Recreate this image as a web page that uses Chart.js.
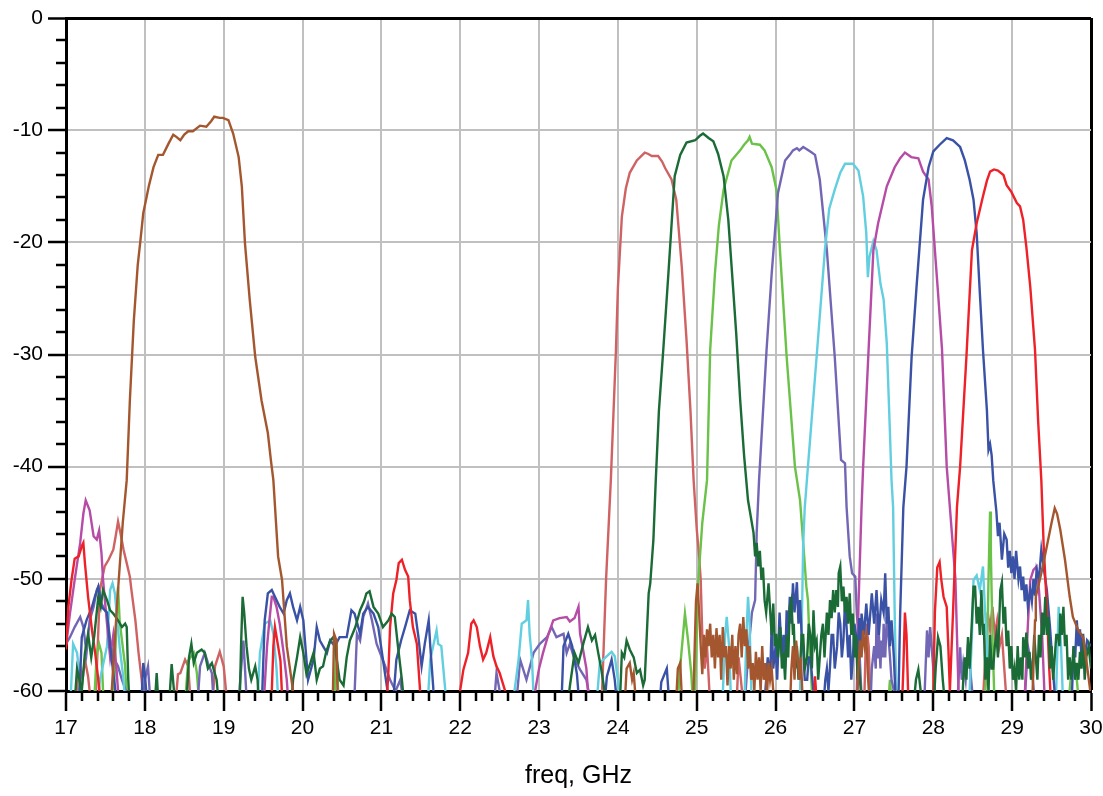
<!DOCTYPE html>
<html>
<head>
<meta charset="utf-8">
<script src="https://cdn.jsdelivr.net/npm/chart.js@4"></script>
<style>
  body { margin: 0; background: #fff; }
  canvas { display: block; }
</style>
</head>
<body>
<canvas id="filterChart" width="1103" height="796"></canvas>
<script>
// S21 traces of the filter bank, [freq GHz, dB]; values below -60 fall off the plot
const siennaTrace = [[17.0,-62],[17.5,-62],[17.58,-60],[17.65,-52],[17.72,-45],[17.77,-41.2],[17.81,-34.1],[17.86,-27],[17.91,-22],[17.94,-20.1],[17.98,-17.4],[18.05,-15],[18.11,-13.3],[18.17,-12.2],[18.23,-12.2],[18.30,-11.2],[18.36,-10.4],[18.40,-10.6],[18.45,-10.9],[18.50,-10.4],[18.55,-10.1],[18.61,-10.1],[18.70,-9.6],[18.78,-9.7],[18.84,-9.2],[18.88,-8.8],[18.95,-8.9],[18.99,-8.9],[19.06,-9.1],[19.12,-10.3],[19.19,-12.4],[19.23,-15.0],[19.27,-20.1],[19.33,-25.1],[19.40,-30.2],[19.48,-34.1],[19.56,-37.0],[19.60,-39.5],[19.63,-41.2],[19.69,-48.0],[19.74,-50.1],[19.80,-56.0],[19.88,-60],[19.95,-62],[20.38,-62],[20.40,-54.9],[20.43,-55.5],[20.45,-62],[24.08,-62],[24.11,-58],[24.15,-57.5],[24.18,-59],[24.2,-58.4],[24.24,-62],[24.73,-62],[24.76,-58],[24.79,-57.5],[24.82,-62],[24.95,-62],[24.97,-57],[24.99,-52],[25.01,-50.4],[25.03,-53],[25.05,-56],[25.07,-58.5],[25.09,-55],[25.11,-57],[25.13,-54.5],[25.15,-56],[25.17,-54],[25.19,-57],[25.21,-55],[25.23,-58],[25.25,-54.4],[25.27,-57],[25.29,-55],[25.31,-59],[25.33,-54.3],[25.35,-57],[25.37,-56],[25.39,-59.5],[25.41,-56],[25.43,-58],[25.45,-55],[25.47,-59],[25.49,-56],[25.51,-58.5],[25.53,-55],[25.55,-54],[25.57,-57],[25.59,-53.4],[25.61,-56],[25.63,-54.5],[25.65,-58],[25.67,-56],[25.69,-59],[25.71,-57.5],[25.73,-60],[25.75,-56.5],[25.77,-59],[25.79,-57],[25.81,-60],[25.83,-56],[25.85,-59],[25.87,-57.5],[25.89,-60.5],[25.91,-57.5],[25.93,-59],[25.95,-58],[25.97,-60],[26.0,-62],[26.18,-62],[26.2,-58],[26.22,-56],[26.24,-59],[26.26,-55.5],[26.28,-57],[26.3,-59],[26.32,-57],[26.35,-62],[27.03,-62],[27.05,-58],[27.07,-55.5],[27.09,-57],[27.11,-54.6],[27.13,-56],[27.15,-55.2],[27.17,-58.5],[27.2,-62],[29.25,-62],[29.29,-53.7],[29.30,-51.6],[29.37,-49.5],[29.44,-47.1],[29.50,-45],[29.54,-43.7],[29.57,-44.2],[29.61,-45.6],[29.67,-48.3],[29.73,-51.6],[29.77,-53.4],[29.84,-54.6],[29.90,-55.2],[29.94,-57.2],[30.0,-60.5]];

const salmonTrace = [[17.0,-62],[17.12,-62],[17.15,-59],[17.18,-57.8],[17.21,-59],[17.24,-57.2],[17.28,-58.7],[17.33,-62],[17.38,-60],[17.43,-51],[17.49,-48.9],[17.54,-48.3],[17.6,-47.4],[17.63,-46.2],[17.66,-44.9],[17.69,-45.9],[17.73,-47.4],[17.77,-48.6],[17.81,-49.8],[17.83,-51],[17.88,-53.7],[17.92,-56.6],[17.96,-59],[17.99,-62],[18.38,-62],[18.42,-58.5],[18.45,-58.4],[18.51,-57.2],[18.55,-57.8],[18.59,-62],[18.85,-62],[18.89,-57.8],[18.95,-56.5],[19.0,-57.8],[19.03,-60],[19.05,-62],[23.75,-62],[23.80,-59.9],[23.85,-50],[23.91,-41.2],[23.975,-29.6],[24.0,-24],[24.05,-17.7],[24.1,-15.2],[24.15,-13.8],[24.24,-12.7],[24.34,-12.0],[24.38,-12.1],[24.43,-12.3],[24.51,-12.3],[24.56,-12.8],[24.60,-13.4],[24.68,-14.4],[24.74,-16.2],[24.81,-22.2],[24.87,-28.7],[24.92,-35],[24.96,-41.2],[25.0,-45.6],[25.03,-48],[25.05,-50.1],[25.07,-55],[25.1,-58],[25.13,-56],[25.16,-60],[25.2,-62],[25.5,-62],[25.53,-57],[25.56,-59],[25.6,-62],[27.12,-62],[27.15,-54],[27.18,-56],[27.21,-62],[28.62,-62],[28.66,-57],[28.69,-53],[28.72,-54.5],[28.75,-52.5],[28.78,-55],[28.81,-53.7],[28.84,-56],[28.87,-55],[28.9,-58],[28.94,-62],[30.0,-62]];

const darkGreenTrace = [[17.0,-62],[17.1,-62],[17.14,-58],[17.2,-60],[17.24,-56.6],[17.28,-54.9],[17.32,-57],[17.36,-55],[17.41,-51.6],[17.44,-52.5],[17.47,-51],[17.52,-51.9],[17.56,-52.8],[17.6,-53.1],[17.66,-53.7],[17.71,-54.3],[17.75,-54],[17.77,-54.3],[17.79,-59],[17.81,-62],[18.12,-62],[18.15,-58.4],[18.18,-62],[18.30,-62],[18.34,-57.6],[18.37,-60],[18.52,-62],[18.56,-57],[18.59,-55.8],[18.62,-57.5],[18.66,-56.6],[18.72,-56.3],[18.76,-56.6],[18.8,-58],[18.85,-57.5],[18.91,-59],[18.95,-62],[19.2,-62],[19.22,-56],[19.24,-51.6],[19.26,-53],[19.29,-56],[19.32,-58],[19.35,-59],[19.4,-57.8],[19.43,-59],[19.45,-62],[19.85,-62],[19.88,-59],[19.93,-57],[19.97,-55.2],[20.01,-56.6],[20.05,-58.5],[20.1,-57.5],[20.14,-56.6],[20.18,-59],[20.22,-58],[20.26,-57.8],[20.3,-56.5],[20.35,-55.5],[20.39,-55.2],[20.43,-57],[20.47,-59],[20.52,-59.5],[20.56,-57],[20.6,-55.5],[20.67,-54.3],[20.73,-52.8],[20.78,-52],[20.81,-51.3],[20.85,-51.1],[20.9,-52.5],[20.96,-53.1],[21.02,-54.3],[21.09,-53.7],[21.13,-53.1],[21.17,-53.4],[21.21,-56],[21.26,-59],[21.3,-62],[23.35,-62],[23.39,-59.6],[23.45,-56.6],[23.5,-57.5],[23.56,-55.8],[23.62,-54.3],[23.67,-55.5],[23.71,-55],[23.75,-56.6],[23.79,-58.1],[23.83,-60],[23.9,-62],[24.02,-62],[24.05,-56.6],[24.08,-57],[24.11,-55.5],[24.15,-56.3],[24.2,-57],[24.24,-58.4],[24.28,-58.1],[24.32,-59.5],[24.34,-59],[24.39,-51.3],[24.41,-50.4],[24.45,-46.5],[24.48,-41.2],[24.52,-35],[24.575,-29.6],[24.64,-22.8],[24.72,-14.1],[24.79,-12.2],[24.87,-11.1],[24.98,-10.9],[25.04,-10.5],[25.08,-10.3],[25.15,-10.7],[25.21,-11.0],[25.27,-12.1],[25.34,-14.1],[25.40,-18.0],[25.46,-24.0],[25.5,-28.1],[25.55,-34],[25.6,-39],[25.65,-43],[25.72,-45.9],[25.74,-48],[25.76,-46.8],[25.78,-48.9],[25.80,-47.5],[25.82,-50.1],[25.84,-49],[25.86,-51.9],[25.88,-53],[25.91,-50.4],[25.93,-52.8],[25.95,-55],[25.97,-52.2],[25.99,-56],[26.01,-54.9],[26.03,-57],[26.06,-54.3],[26.08,-58],[26.1,-56.6],[26.12,-59],[26.14,-55],[26.16,-57],[26.18,-52.5],[26.2,-51.9],[26.22,-55],[26.23,-54],[26.25,-58],[26.27,-56],[26.29,-59],[26.31,-58],[26.33,-55],[26.35,-55],[26.37,-58],[26.4,-57],[26.42,-54],[26.44,-55],[26.46,-58],[26.48,-52.8],[26.5,-56],[26.52,-55.5],[26.54,-59],[26.56,-57],[26.58,-55],[26.6,-54],[26.62,-57],[26.65,-53],[26.67,-55],[26.69,-51.9],[26.71,-53.5],[26.73,-51],[26.75,-53],[26.77,-51],[26.79,-52.5],[26.8,-49.5],[26.82,-48.9],[26.84,-52],[26.86,-50.7],[26.88,-53],[26.9,-51.6],[26.92,-54],[26.94,-51.3],[26.96,-55],[26.98,-53.1],[27.0,-57],[27.02,-55],[27.04,-59],[27.06,-58],[27.1,-62],[27.74,-62],[27.78,-59],[27.81,-58.1],[27.84,-60],[27.88,-62],[28.0,-62],[28.03,-58],[28.06,-55.2],[28.09,-56],[28.12,-59],[28.16,-62],[28.36,-62],[28.38,-59],[28.4,-57],[28.42,-59],[28.44,-55.2],[28.46,-58],[28.49,-53.7],[28.51,-50.7],[28.53,-50.7],[28.55,-54],[28.57,-52.5],[28.59,-55],[28.61,-51],[28.63,-55],[28.64,-54],[28.66,-59],[28.68,-57],[28.7,-60],[28.72,-55],[28.74,-58],[28.76,-58],[28.78,-56],[28.8,-55],[28.82,-57],[28.85,-51],[28.87,-50.3],[28.89,-54],[28.91,-52.5],[28.93,-56],[28.95,-54.6],[28.97,-58],[28.99,-56],[29.01,-59],[29.03,-58],[29.05,-60],[29.07,-56],[29.09,-59],[29.11,-57],[29.13,-59],[29.14,-55.2],[29.16,-57],[29.18,-54.8],[29.2,-58],[29.22,-56.5],[29.24,-59],[29.26,-58],[29.28,-55],[29.3,-57],[29.32,-59],[29.34,-55],[29.36,-57],[29.38,-53],[29.4,-55],[29.42,-51.6],[29.44,-55],[29.46,-53.4],[29.48,-58],[29.5,-56],[29.52,-59],[29.54,-57],[29.56,-55],[29.58,-55],[29.6,-56],[29.61,-53.1],[29.63,-55],[29.65,-52.5],[29.67,-56],[29.69,-55],[29.71,-59],[29.73,-57],[29.75,-59],[29.78,-56],[29.8,-59],[29.82,-57.5],[29.84,-59],[29.86,-56.5],[29.88,-58],[29.90,-55.5],[29.92,-59],[29.94,-57],[29.97,-56],[30.0,-58]];

const lightGreenTrace = [[17.0,-62],[17.14,-62],[17.18,-59],[17.22,-62],[17.35,-62],[17.39,-56.6],[17.42,-55.8],[17.45,-56.6],[17.47,-60],[17.5,-62],[17.6,-62],[17.64,-53.7],[17.66,-50.7],[17.68,-53.7],[17.71,-55.5],[17.75,-57.8],[17.78,-62],[18.5,-62],[18.55,-57.3],[18.62,-56.6],[18.66,-58.4],[18.7,-62],[20.4,-62],[20.43,-55.5],[20.46,-62],[24.75,-62],[24.79,-57.8],[24.85,-53.1],[24.89,-55.5],[24.93,-58.4],[24.96,-62],[24.98,-59.6],[25.02,-50.1],[25.07,-45],[25.13,-41.2],[25.17,-29.6],[25.23,-22.8],[25.28,-18.5],[25.34,-15.3],[25.44,-12.7],[25.55,-11.8],[25.60,-11.3],[25.65,-10.9],[25.67,-10.6],[25.70,-11.2],[25.80,-11.3],[25.86,-11.8],[25.95,-13.3],[26.01,-15.3],[26.055,-20.7],[26.14,-30.2],[26.245,-40.0],[26.31,-43],[26.35,-46.8],[26.39,-50.7],[26.41,-51.9],[26.43,-55.5],[26.46,-60],[26.5,-62],[27.42,-62],[27.45,-59],[27.48,-62],[28.64,-62],[28.68,-58],[28.7,-50],[28.72,-44.0],[28.73,-47.7],[28.75,-55],[28.78,-62],[29.7,-62],[29.75,-58.4],[29.78,-57.5],[29.82,-59],[29.86,-62],[30.0,-62]];

const purpleTrace = [[17.0,-55.8],[17.05,-55.2],[17.11,-54.3],[17.18,-53.4],[17.22,-54.3],[17.26,-56.6],[17.3,-53.7],[17.35,-52.5],[17.39,-51],[17.41,-50.7],[17.45,-52.2],[17.52,-53.1],[17.56,-55.5],[17.6,-57],[17.66,-57.8],[17.71,-59],[17.77,-60.2],[17.8,-62],[17.97,-62],[18.0,-59],[18.04,-57.8],[18.08,-62],[18.66,-62],[18.7,-57.8],[18.76,-56.6],[18.8,-57.5],[18.85,-58.4],[18.88,-62],[19.18,-62],[19.21,-59],[19.25,-55.5],[19.27,-58],[19.3,-62],[20.65,-62],[20.69,-54.9],[20.73,-55.5],[20.77,-53.4],[20.83,-52.2],[20.88,-53.7],[20.94,-55.8],[21.0,-56.9],[21.05,-57.8],[21.11,-59],[21.18,-60],[21.24,-59],[21.3,-62],[22.42,-62],[22.46,-58.4],[22.5,-60],[22.7,-62],[22.76,-57.2],[22.84,-59],[22.93,-56.6],[23.01,-55.8],[23.1,-55.2],[23.16,-54.3],[23.22,-55.2],[23.31,-54.9],[23.35,-56.6],[23.39,-55.8],[23.45,-57.2],[23.52,-58.1],[23.6,-59],[23.68,-62],[25.6,-62],[25.66,-56],[25.7,-53],[25.74,-51.9],[25.76,-45.9],[25.79,-41.2],[25.885,-29.6],[25.95,-22.8],[26.03,-15.6],[26.12,-12.7],[26.18,-12.2],[26.22,-11.8],[26.27,-11.6],[26.30,-11.8],[26.35,-11.5],[26.44,-11.9],[26.50,-12.2],[26.56,-14.4],[26.65,-20.7],[26.75,-30.2],[26.83,-39.4],[26.88,-39.7],[26.90,-43.6],[26.94,-48],[26.97,-49.5],[27.01,-49.8],[27.03,-53.1],[27.06,-56],[27.1,-62],[27.2,-62],[27.22,-58],[27.25,-56],[27.27,-58],[27.28,-53.1],[27.3,-57],[27.31,-55],[27.33,-58],[27.34,-55.5],[27.36,-57],[27.37,-54],[27.39,-57],[27.41,-53.4],[27.43,-55],[27.45,-56.9],[27.47,-59],[27.5,-60],[27.55,-62],[27.88,-62],[27.92,-54.6],[27.94,-57],[27.96,-54.3],[28.0,-58],[28.04,-62],[28.3,-62],[28.34,-56.1],[28.36,-59],[28.38,-57.5],[28.41,-59],[28.44,-55.8],[28.48,-59],[28.52,-62],[29.15,-62],[29.2,-56],[29.25,-58],[29.3,-62],[30.0,-62]];

const cyanTrace = [[17.0,-62],[17.05,-62],[17.09,-55.8],[17.14,-56.6],[17.18,-59],[17.22,-62],[17.4,-62],[17.43,-59],[17.52,-56],[17.56,-51],[17.59,-50.4],[17.62,-51.3],[17.65,-53.7],[17.68,-56],[17.73,-59],[17.76,-62],[19.42,-62],[19.46,-56.6],[19.52,-54],[19.59,-53.7],[19.63,-54.9],[19.67,-58],[19.7,-62],[21.58,-62],[21.62,-57.2],[21.7,-54.6],[21.72,-55.8],[21.76,-56],[21.81,-59.9],[21.84,-62],[22.65,-62],[22.69,-59.9],[22.74,-57.2],[22.78,-54],[22.84,-53.7],[22.86,-51.9],[22.88,-54.9],[22.91,-57.2],[22.94,-62],[23.72,-62],[23.77,-57.5],[23.86,-56.9],[23.92,-56.5],[23.96,-56.9],[24.0,-59],[24.03,-62],[25.32,-62],[25.36,-55],[25.38,-53.4],[25.41,-56],[25.44,-62],[25.6,-62],[25.63,-55],[25.65,-51.6],[25.67,-54],[25.7,-62],[26.28,-62],[26.31,-60],[26.33,-54.9],[26.35,-46.8],[26.37,-43.6],[26.41,-40.0],[26.52,-30.2],[26.625,-20.7],[26.68,-17],[26.75,-15.3],[26.82,-13.8],[26.88,-13.0],[26.98,-13.0],[27.05,-13.6],[27.11,-15.9],[27.15,-19.2],[27.17,-23.1],[27.19,-21.3],[27.24,-19.9],[27.28,-20.7],[27.33,-23.7],[27.37,-25.1],[27.41,-29.0],[27.45,-37.0],[27.47,-41.2],[27.49,-43.6],[27.51,-53],[27.53,-60],[27.56,-62],[28.45,-62],[28.49,-55],[28.51,-50.1],[28.55,-49.7],[28.59,-51],[28.63,-48.9],[28.65,-52],[28.68,-56],[28.71,-62],[29.55,-62],[29.59,-52.5],[29.62,-56],[29.65,-62],[30.0,-62]];

const magentaTrace = [[17.0,-56],[17.05,-53.1],[17.11,-50.1],[17.18,-46.8],[17.22,-44.2],[17.25,-43.0],[17.3,-43.9],[17.35,-46.2],[17.39,-46.5],[17.42,-45.7],[17.45,-47.7],[17.47,-50.1],[17.52,-54],[17.56,-57],[17.6,-55],[17.64,-58],[17.68,-62],[19.5,-62],[19.55,-56],[19.58,-53.7],[19.61,-51.6],[19.63,-51.6],[19.67,-52.5],[19.71,-54],[19.76,-56.6],[19.8,-59],[19.83,-62],[22.9,-62],[23.0,-58],[23.05,-56.6],[23.12,-54.9],[23.18,-53.7],[23.26,-53.5],[23.35,-53.4],[23.39,-53.8],[23.45,-53.5],[23.5,-52.5],[23.52,-54.9],[23.56,-56.4],[23.6,-58],[23.64,-62],[27.0,-62],[27.03,-60],[27.05,-52.5],[27.09,-43.6],[27.11,-40.0],[27.175,-30.2],[27.24,-20.7],[27.30,-18.3],[27.41,-15.0],[27.51,-13.3],[27.58,-12.5],[27.64,-12.0],[27.72,-12.4],[27.81,-12.5],[27.87,-13.7],[27.94,-14.4],[27.98,-16.8],[28.02,-20.7],[28.06,-24.5],[28.11,-29.5],[28.17,-40.0],[28.21,-43.6],[28.28,-50],[28.32,-60],[28.35,-62],[29.15,-62],[29.2,-54],[29.23,-50.1],[29.27,-49.2],[29.31,-48.9],[29.34,-51],[29.38,-55],[29.42,-62],[30.0,-62]];

const blueTrace = [[17.0,-62],[17.16,-62],[17.2,-55.2],[17.26,-53.7],[17.33,-52.5],[17.37,-51.5],[17.41,-50.7],[17.45,-52.5],[17.52,-53],[17.56,-56],[17.62,-59.6],[17.65,-62],[17.95,-62],[17.98,-57.5],[18.0,-58.5],[18.04,-62],[19.48,-62],[19.52,-53.7],[19.56,-51.3],[19.61,-51],[19.65,-51.6],[19.71,-52.5],[19.76,-53.1],[19.8,-51.9],[19.84,-51.3],[19.88,-52.5],[19.93,-53.7],[19.97,-52.5],[20.01,-53.7],[20.07,-59],[20.14,-57.2],[20.18,-54.3],[20.22,-55.5],[20.26,-56],[20.31,-56.6],[20.35,-55.5],[20.41,-56],[20.47,-55.2],[20.56,-55.2],[20.62,-52.8],[20.66,-53.1],[20.73,-54.9],[20.77,-53.1],[20.83,-52.5],[20.9,-53.1],[20.96,-54.3],[21.02,-57.2],[21.07,-59.6],[21.12,-62],[21.16,-60],[21.19,-57.2],[21.25,-55.5],[21.3,-54.3],[21.36,-52.8],[21.43,-53.1],[21.47,-55.2],[21.51,-57.8],[21.55,-55.8],[21.6,-53.7],[21.62,-56],[21.66,-59.9],[21.7,-62],[23.28,-62],[23.31,-56],[23.37,-54.9],[23.42,-56],[23.48,-58.5],[23.52,-62],[23.82,-62],[23.86,-58.7],[23.92,-57.2],[23.96,-59],[24.0,-62],[24.52,-62],[24.55,-59.2],[24.62,-58],[24.66,-62],[25.85,-62],[25.88,-59],[25.9,-57],[25.93,-59],[25.95,-54],[25.97,-58],[26.0,-56],[26.02,-59],[26.05,-53],[26.08,-57],[26.1,-55],[26.12,-58],[26.14,-52.8],[26.16,-55],[26.18,-51.6],[26.2,-54],[26.22,-50.4],[26.24,-53],[26.27,-50.3],[26.29,-54],[26.31,-51.9],[26.33,-55],[26.35,-56.3],[26.37,-59],[26.4,-59],[26.42,-57],[26.44,-57],[26.48,-60],[26.6,-62],[26.63,-59],[26.65,-58],[26.67,-60],[26.69,-57.8],[26.71,-55],[26.73,-55],[26.75,-58],[26.78,-56],[26.8,-53],[26.82,-54],[26.84,-57],[26.86,-55.5],[26.88,-52],[26.9,-54.3],[26.92,-57],[26.94,-55],[26.96,-59],[26.98,-57],[27.0,-54],[27.02,-55],[27.04,-58],[27.06,-53.5],[27.08,-56],[27.09,-53.1],[27.12,-55],[27.15,-52.2],[27.18,-55],[27.22,-51.3],[27.25,-54],[27.28,-51],[27.31,-55],[27.34,-51.9],[27.37,-53],[27.39,-49.5],[27.41,-54],[27.43,-52.5],[27.45,-56],[27.47,-53.7],[27.5,-57],[27.53,-62],[27.56,-60],[27.58,-53],[27.62,-43.6],[27.66,-40.0],[27.725,-30.2],[27.79,-23.7],[27.87,-16.2],[27.94,-13.3],[28.0,-11.9],[28.08,-11.3],[28.17,-10.7],[28.25,-10.9],[28.34,-11.5],[28.40,-12.7],[28.46,-14.4],[28.51,-16.2],[28.55,-19.2],[28.59,-24.5],[28.63,-29.6],[28.68,-35],[28.70,-38.5],[28.72,-38],[28.74,-39],[28.76,-41.2],[28.8,-44],[28.82,-46.2],[28.84,-45],[28.87,-48.3],[28.9,-46],[28.93,-46.5],[28.95,-49],[28.97,-47.5],[28.99,-49.5],[29.01,-48.0],[29.03,-50],[29.05,-47.5],[29.08,-50],[29.10,-48.9],[29.12,-51],[29.14,-49.8],[29.16,-52],[29.18,-50.5],[29.2,-52.5],[29.23,-51.0],[29.25,-52],[29.27,-50],[29.29,-51.5],[29.31,-49.2],[29.34,-50],[29.37,-47.4],[29.4,-49],[29.44,-51],[29.48,-54.3],[29.52,-58.4],[29.56,-62],[29.75,-62],[29.78,-56],[29.8,-57],[29.82,-53.7],[29.84,-56],[29.86,-54.5],[29.88,-57],[29.90,-54.9],[29.92,-57],[29.95,-55.5],[30.0,-56]];

const redTrace = [[17.0,-56.3],[17.03,-52.5],[17.07,-50.1],[17.11,-48.2],[17.16,-48],[17.2,-47.1],[17.22,-46.8],[17.24,-48.6],[17.28,-51.6],[17.33,-54.6],[17.37,-56.6],[17.41,-59],[17.45,-62],[19.6,-62],[19.63,-56],[19.65,-54.3],[19.69,-56],[19.72,-57.3],[19.75,-62],[21.06,-62],[21.09,-58.1],[21.11,-54.3],[21.15,-51.3],[21.19,-50.1],[21.22,-48.6],[21.26,-48.3],[21.3,-49.2],[21.34,-49.8],[21.36,-51.9],[21.4,-54.3],[21.45,-55.8],[21.49,-59.9],[21.52,-62],[21.98,-62],[22.0,-59.9],[22.04,-58.1],[22.1,-56.6],[22.14,-54],[22.17,-53.7],[22.21,-54.3],[22.25,-56],[22.29,-57.2],[22.33,-56.6],[22.38,-55.2],[22.42,-56.9],[22.46,-57.8],[22.5,-58.4],[22.57,-60],[22.6,-62],[26.48,-62],[26.5,-58.7],[26.53,-62],[27.6,-62],[27.62,-58],[27.64,-53],[27.66,-55],[27.68,-60],[27.7,-62],[27.98,-62],[28.0,-60],[28.02,-53],[28.05,-49],[28.08,-48.5],[28.1,-50],[28.13,-51.6],[28.17,-52.5],[28.19,-56],[28.21,-60],[28.25,-53],[28.30,-43.6],[28.34,-40.0],[28.42,-30.2],[28.49,-20.7],[28.55,-18.3],[28.63,-15.9],[28.68,-14.5],[28.72,-13.7],[28.77,-13.5],[28.82,-13.6],[28.89,-14.0],[28.93,-14.9],[28.99,-15.5],[29.06,-16.5],[29.10,-16.8],[29.14,-18.0],[29.18,-20.4],[29.23,-24.0],[29.29,-29.6],[29.33,-36],[29.37,-41.2],[29.40,-47.1],[29.44,-52.5],[29.47,-58],[29.5,-62],[30.0,-62]];

const traces = [siennaTrace, darkGreenTrace, redTrace, blueTrace, magentaTrace, cyanTrace, purpleTrace, lightGreenTrace, salmonTrace];
const traceColors = ['#a4572f', '#1b6b37', '#ef2128', '#3a52a6', '#b64ca6', '#62cfe0', '#7267b5', '#6ac248', '#cf6262'];

const freqMin = 17, freqMax = 30;
const dbMin = -60, dbMax = 0;

// minor tick marks outside the axes (Chart.js only draws one tick length)
const minorTicks = {
  id: 'minorTicks',
  afterDraw(chart) {
    const {ctx, chartArea, scales: {x, y}} = chart;
    ctx.save();
    ctx.strokeStyle = '#000';
    ctx.lineWidth = 2.5;
    ctx.beginPath();
    for (let i = 1; i < 30; i++) {
      if (i % 5 === 0) continue;
      const py = Math.round(y.getPixelForValue(dbMin + i * 2));
      ctx.moveTo(chartArea.left - 10, py);
      ctx.lineTo(chartArea.left, py);
    }
    for (let i = 1; i < 65; i++) {
      if (i % 5 === 0) continue;
      const px = Math.round(x.getPixelForValue(freqMin + i * 0.2));
      ctx.moveTo(px, chartArea.bottom);
      ctx.lineTo(px, chartArea.bottom + 10);
    }
    ctx.stroke();
    ctx.restore();
  }
};

const tickFont = {family: 'Liberation Sans, Arial, sans-serif', size: 21};

let myChart = new Chart(document.getElementById('filterChart'), {
  type: 'line',
  data: {
    datasets: traces.map((t, i) => ({
      data: t.map(([f, db]) => ({x: f, y: db})),
      borderColor: traceColors[i],
      borderWidth: 2.4,
      pointRadius: 0,
      tension: 0,
      fill: false,
      clip: 0
    }))
  },
  options: {
    responsive: false,
    animation: false,
    devicePixelRatio: 1,
    layout: {padding: {left: 0, right: 12, top: 18, bottom: 0}},
    plugins: {
      legend: {display: false},
      tooltip: {enabled: false}
    },
    scales: {
      x: {
        type: 'linear',
        min: freqMin,
        max: freqMax,
        afterFit: (scale) => {
          scale.height = 105;
          scale.paddingLeft = 0;
          scale.paddingRight = 0;
        },
        ticks: {stepSize: 1, color: '#000', font: tickFont, padding: 5, maxRotation: 0},
        grid: {
          color: (c) => (c.tick && c.tick.value === freqMax) ? '#000' : '#c0c0c0',
          lineWidth: (c) => (c.tick && c.tick.value === freqMax) ? 3 : 2,
          tickLength: 20,
          tickColor: '#000',
          tickWidth: 2.5
        },
        border: {display: true, color: '#000', width: 3},
        title: {
          display: true,
          text: 'freq, GHz',
          color: '#000',
          font: {family: 'Liberation Sans, Arial, sans-serif', size: 25},
          padding: {top: 0, bottom: 5}
        }
      },
      y: {
        min: dbMin,
        max: dbMax,
        afterFit: (scale) => { scale.width = 66; },
        ticks: {stepSize: 10, color: '#000', font: tickFont, padding: 5},
        grid: {
          color: (c) => (c.tick && c.tick.value === dbMax) ? '#000' : '#c0c0c0',
          lineWidth: (c) => (c.tick && c.tick.value === dbMax) ? 3 : 2,
          tickLength: 18,
          tickColor: '#000',
          tickWidth: 2.5
        },
        border: {display: true, color: '#000', width: 3}
      }
    }
  },
  plugins: [minorTicks]
});
</script>
</body>
</html>
